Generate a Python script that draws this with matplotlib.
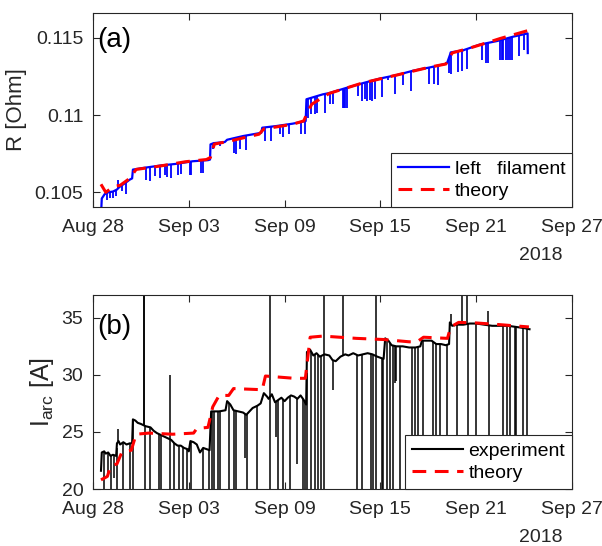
import numpy as np
import matplotlib
matplotlib.use("Agg")
import matplotlib.pyplot as plt
import matplotlib.dates as mdates
from matplotlib.ticker import FixedLocator
from datetime import datetime

plt.rcParams['font.family'] = ['Liberation Sans', 'DejaVu Sans']

t0 = mdates.date2num(datetime(2018, 8, 28))

# --- panel (a): filament resistance, days after Aug 28 ---
r_days = [0.50, 0.55, 0.73, 0.95, 1.25, 1.50, 1.65, 1.95, 2.30, 2.45, 2.50, 3.10,
          4.20, 5.20, 6.25, 7.20, 7.33, 7.36, 7.55, 8.25, 8.40, 9.40, 10.54, 10.60,
          11.50, 12.50, 13.32, 13.37, 14.40, 14.84, 15.88, 16.93, 17.97, 19.00,
          20.06, 21.10, 22.04, 22.19, 22.36, 22.40, 23.19, 24.23, 25.28, 26.32,
          27.22, 27.23]
r_vals = [0.1035, 0.1046, 0.10488, 0.10500, 0.10505, 0.10518, 0.10534, 0.10555,
          0.10582, 0.10590, 0.10647, 0.10657, 0.10673, 0.10684, 0.10701, 0.10708,
          0.10712, 0.10810, 0.10818, 0.10825, 0.10840, 0.10864, 0.10885, 0.10918,
          0.10929, 0.10944, 0.10961, 0.11102, 0.11134, 0.11143, 0.11176, 0.11207,
          0.11236, 0.11258, 0.11287, 0.11308, 0.11330, 0.11340, 0.11390, 0.11405,
          0.11419, 0.11456, 0.11478, 0.11507, 0.11528, 0.11401]

# downward glitches in R (day, lowest value)
r_dip_days = [0.88, 1.04, 1.25, 1.42, 1.84, 2.05, 3.34, 3.59, 3.86, 4.18, 4.49, 4.63,
              4.91, 5.32, 5.53, 6.05, 6.16, 6.78, 6.89, 7.52, 7.93, 8.81, 8.94, 9.19,
              9.60, 10.75, 11.17, 11.69, 11.90, 12.28, 13.05, 13.26, 13.47, 13.67,
              13.88, 14.03, 14.51, 14.82, 15.01, 15.63, 15.72, 15.80, 15.88, 16.61,
              16.87, 17.03, 17.18, 17.35, 17.49, 17.66, 18.08, 18.49, 18.91, 19.43,
              19.91, 21.06, 21.35, 21.62, 22.31, 22.42, 22.88, 23.09, 23.44, 24.34,
              24.61, 24.76, 25.49, 25.59, 25.70, 25.84, 25.97, 26.11, 26.22, 26.70,
              26.99]
r_dip_vals = [0.10452, 0.10463, 0.10463, 0.10474, 0.10506, 0.10489, 0.10582, 0.10576,
              0.10604, 0.10593, 0.10615, 0.10597, 0.10593, 0.10615, 0.10619, 0.10615,
              0.10615, 0.10625, 0.10625, 0.10777, 0.10799, 0.10755, 0.10749, 0.10777,
              0.10771, 0.10831, 0.10831, 0.10875, 0.10857, 0.10875, 0.10875, 0.10879,
              0.10983, 0.11004, 0.11004, 0.11015, 0.11015, 0.11069, 0.11071, 0.11044,
              0.11044, 0.11044, 0.11044, 0.11126, 0.11088, 0.11104, 0.11088, 0.11097,
              0.11093, 0.11104, 0.11115, 0.11225, 0.11137, 0.11192, 0.11154, 0.11198,
              0.11203, 0.11192, 0.11269, 0.11264, 0.11280, 0.11287, 0.11295, 0.11357,
              0.11335, 0.11335, 0.11357, 0.11357, 0.11357, 0.11357, 0.11357, 0.11357,
              0.11357, 0.11379, 0.11423]
r_peak_days = [1.59]
r_peak_vals = [0.10582]

r_th_days = [0.5, 0.8, 1.3, 1.7, 2.3, 2.7, 4.2, 5.8, 7.1, 7.35, 7.6, 8.5, 10.4, 10.7,
             12.5, 13.2, 13.4, 13.7, 14.8, 16.9, 19.0, 21.1, 22.1, 22.3, 22.5, 23.5,
             24.5, 25.5, 27.2]
r_th_vals = [0.10552, 0.10500, 0.10538, 0.10545, 0.10590, 0.10648, 0.10670, 0.10698,
             0.10712, 0.10725, 0.10812, 0.10830, 0.10876, 0.10910, 0.10940, 0.10962,
             0.11010, 0.11070, 0.11140, 0.11208, 0.11258, 0.11310, 0.11330, 0.11365,
             0.11402, 0.11430, 0.11462, 0.11495, 0.11545]

# --- panel (b): arc current ---
i_days = [0.50, 0.55, 0.70, 0.80, 0.95, 1.10, 1.25, 1.45, 1.50, 1.60, 1.70, 1.90,
          2.10, 2.30, 2.45, 2.50, 2.65, 2.80, 3.00, 3.30, 3.60, 3.80, 4.00, 4.30,
          4.60, 4.90, 5.10, 5.30, 5.50, 5.70, 5.90, 6.00, 6.10, 6.30, 6.50, 6.70,
          6.90, 7.10, 7.30, 7.40, 7.60, 7.90, 8.30, 8.40, 8.60, 8.80, 9.10, 9.40,
          9.60, 9.80, 10.00, 10.30, 10.50, 10.70, 10.90, 11.00, 11.20, 11.40, 11.60,
          11.80, 12.00, 12.20, 12.40, 12.60, 12.80, 13.00, 13.20, 13.35, 13.40,
          13.60, 13.80, 14.00, 14.20, 14.50, 14.80, 15.00, 15.20, 15.50, 15.80,
          16.00, 16.30, 16.60, 16.90, 17.20, 17.50, 17.80, 18.00, 18.20, 18.30,
          18.50, 18.70, 19.00, 19.40, 19.80, 20.20, 20.50, 20.60, 20.90, 21.20,
          21.50, 21.80, 22.10, 22.30, 22.35, 22.50, 22.80, 23.20, 23.60, 24.00,
          24.50, 25.00, 25.50, 26.00, 26.50, 27.00, 27.34]
i_vals = [21.6, 23.2, 23.3, 23.1, 23.2, 22.9, 23.0, 22.9, 24.0, 24.2, 23.9, 24.1,
          23.9, 24.0, 24.0, 26.1, 26.0, 25.8, 25.7, 25.5, 25.4, 25.1, 24.9, 24.7,
          24.5, 24.3, 24.0, 23.8, 23.8, 23.6, 23.5, 23.3, 24.2, 24.1, 23.9, 23.2,
          23.6, 23.5, 23.4, 26.8, 26.8, 26.8, 26.9, 27.7, 27.4, 26.9, 26.8, 26.7,
          26.5, 26.8, 27.1, 27.3, 27.5, 28.4, 28.1, 27.9, 28.3, 27.6, 27.8, 28.0,
          27.7, 28.0, 28.2, 28.1, 27.9, 28.2, 27.8, 27.4, 32.0, 32.2, 31.7, 31.9,
          31.6, 31.8, 31.7, 31.3, 31.2, 31.6, 31.8, 31.7, 31.9, 31.7, 31.8, 31.9,
          31.8, 31.6, 31.5, 31.4, 33.2, 33.0, 32.6, 32.5, 32.5, 32.4, 32.4, 32.5,
          33.0, 33.0, 33.0, 32.7, 32.7, 32.6, 32.7, 34.6, 34.3, 34.4, 34.4, 34.5,
          34.5, 34.4, 34.3, 34.3, 34.3, 34.2, 34.1, 34.0]

# arc drop-outs (day, lowest current)
i_dip_days = [0.67, 0.92, 1.13, 1.33, 1.48, 1.86, 2.34, 2.52, 3.26, 3.59, 4.15, 4.26,
              4.84, 5.09, 5.40, 5.61, 5.88, 6.13, 6.87, 7.24, 7.45, 7.60, 7.80, 7.95,
              8.50, 8.81, 8.96, 9.50, 9.62, 10.25, 11.08, 11.46, 11.58, 11.91, 12.34,
              12.76, 13.17, 13.27, 13.38, 13.65, 13.90, 14.11, 14.27, 14.46, 15.01,
              16.55, 16.82, 17.38, 17.55, 17.72, 18.07, 18.18, 18.43, 18.60, 18.76,
              18.91, 19.00, 19.25, 19.95, 20.16, 20.37, 20.68, 21.30, 21.48, 21.73,
              22.14, 22.77, 23.48, 23.99, 24.80, 25.65, 25.90, 26.10, 26.40, 26.50,
              26.90, 27.20]
i_dip_vals = [0, 21.3, 0, 21.0, 0, 0, 0, 0, 0, 0, 0, 0,
              0, 0, 0, 0, 0, 0, 0, 0, 0, 0, 0, 0,
              0, 0, 0, 22.7, 0, 0, 0, 24.6, 0, 0, 0,
              22.2, 0, 0, 0, 0, 0, 0, 0, 0, 28.7,
              0, 0, 0, 0, 0, 0, 0, 0, 0, 0,
              29.3, 29.5, 0, 0, 0, 0, 0, 0, 0, 0,
              0, 0, 0, 0, 0, 0, 0, 0, 0, 0,
              0, 0]
i_peak_days = [1.59, 3.17, 3.22, 4.84, 11.08, 14.46, 15.64, 17.72, 22.40, 23.08, 23.40, 24.76]
i_peak_vals = [25.3, 40, 40, 30.0, 40, 40, 40, 40, 35.3, 40, 40, 35.6]

i_th_days = [0.5, 0.9, 1.1, 1.5, 1.8, 2.4, 2.7, 3.5, 5.0, 6.3, 6.5, 7.2, 7.5, 7.9,
             8.5, 8.8, 10.6, 10.8, 12.6, 13.3, 13.6, 14.4, 16.5, 18.2, 19.8, 20.3,
             20.7, 22.2, 22.4, 22.9, 24.0, 25.5, 27.3]
i_th_vals = [20.8, 21.1, 22.0, 22.2, 23.2, 23.4, 24.8, 24.9, 24.8, 24.9, 25.3, 25.4,
             27.2, 28.2, 28.2, 28.8, 28.7, 29.9, 29.7, 29.7, 33.3, 33.4, 33.2, 33.1,
             32.9, 32.9, 33.3, 33.2, 34.2, 34.6, 34.55, 34.4, 34.2]

tick_days = [0, 6, 12, 18, 24, 30]
dark = '#262626'

fig = plt.figure(figsize=(6.02, 5.46), dpi=100)
ax1 = fig.add_axes([93/602, 1-207/546, 479/602, 194/546])
ax2 = fig.add_axes([93/602, 1-489/546, 479/602, 194/546])


def x(d):
    return t0 + np.asarray(d, dtype=float)


# (a)
ax1.plot(x(r_days), r_vals, color='#0000ff', lw=1.6, label='left   filament')
tops = np.interp(r_dip_days, r_days, r_vals)
ax1.vlines(x(r_dip_days), r_dip_vals, tops, color='#0000ff', lw=1.3)
ax1.vlines(x(r_peak_days), np.interp(r_peak_days, r_days, r_vals), r_peak_vals,
           color='#0000ff', lw=1.3)
ax1.plot(x(r_th_days), r_th_vals, color='#ff0000', lw=2.2, ls=(0, (4.5, 2.8)),
         label='theory')
ax1.set_ylim(0.10405, 0.1166)
ax1.set_yticks([0.105, 0.11, 0.115])
ax1.set_yticklabels(['0.105', '0.11', '0.115'])
ax1.set_ylabel('R [Ohm]', fontsize=16, color=dark, labelpad=5)
ax1.text(0.008, 0.86, '(a)', transform=ax1.transAxes, fontsize=20, va='center', ha='left')

# (b)
ax2.plot(x(i_days), i_vals, color='black', lw=1.5, label='experiment')
tops = np.interp(i_dip_days, i_days, i_vals)
ax2.vlines(x(i_dip_days), i_dip_vals, tops, color='black', lw=1.1)
ax2.vlines(x(i_peak_days), np.interp(i_peak_days, i_days, i_vals), i_peak_vals,
           color='black', lw=1.1)
ax2.plot(x(i_th_days), i_th_vals, color='#ff0000', lw=2.2, ls=(0, (4.5, 2.8)),
         label='theory')
ax2.set_ylim(20, 37)
ax2.set_yticks([20, 25, 30, 35])
ax2.set_ylabel(r'$\mathregular{I_{arc}}$ [A]', fontsize=18, color=dark, labelpad=4)
ax2.text(0.008, 0.835, '(b)', transform=ax2.transAxes, fontsize=20, va='center', ha='left')

for ax in (ax1, ax2):
    ax.set_xlim(x(0), x(30))
    ax.xaxis.set_major_locator(FixedLocator(x(tick_days)))
    ax.xaxis.set_major_formatter(mdates.DateFormatter('%b %d'))
    ax.tick_params(direction='in', length=5, width=0.8, top=True, right=True,
                   labelsize=14, colors=dark)
    ax.tick_params(axis='x', pad=9)
    ax.tick_params(axis='y', pad=7)
    for s in ax.spines.values():
        s.set_color(dark)
        s.set_linewidth(0.8)
    ax.text(0.935, -0.25, '2018', transform=ax.transAxes, fontsize=14,
            color=dark, ha='center', va='center')
    leg = ax.legend(loc='lower right', bbox_to_anchor=(1.0, 0.0), fontsize=14,
                    frameon=True, fancybox=False, edgecolor='#262626',
                    framealpha=1, borderaxespad=0, handlelength=2.6,
                    handletextpad=0.3, borderpad=0.35, labelspacing=0.25)
    leg.get_frame().set_linewidth(0.8)
    leg.set_zorder(5)

fig.savefig('out.png', dpi=100)
